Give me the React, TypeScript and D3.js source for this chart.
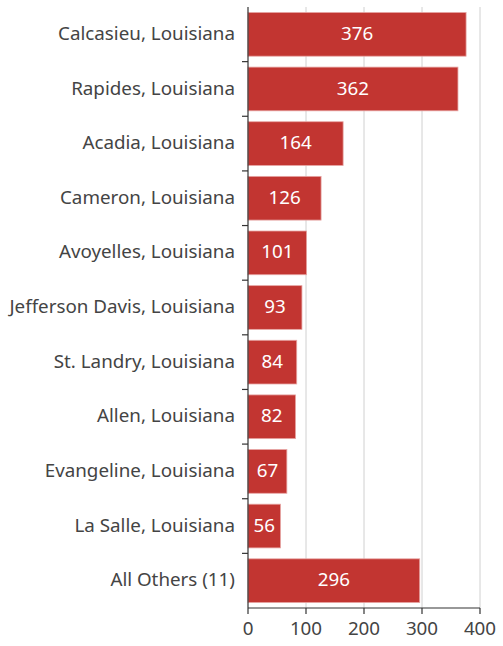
import React from "react";
import * as d3 from "d3";

const categories = [
  "Calcasieu, Louisiana",
  "Rapides, Louisiana",
  "Acadia, Louisiana",
  "Cameron, Louisiana",
  "Avoyelles, Louisiana",
  "Jefferson Davis, Louisiana",
  "St. Landry, Louisiana",
  "Allen, Louisiana",
  "Evangeline, Louisiana",
  "La Salle, Louisiana",
  "All Others (11)",
];
const values = [376, 362, 164, 126, 101, 93, 84, 82, 67, 56, 296];
const xTicks = [0, 100, 200, 300, 400];

const W = 503;
const H = 646;
const margin = { top: 7, right: 23, bottom: 38, left: 248 };

export default function App() {
  const x = d3.scaleLinear().domain([0, 400]).range([margin.left, W - margin.right]);
  const y = d3
    .scaleBand<string>()
    .domain(categories)
    .range([margin.top, H - margin.bottom])
    .paddingInner(0.2)
    .paddingOuter(0.1);
  const step = y.step();
  const edges = categories.map((c) => (y(c) as number) - (step * y.paddingInner()) / 2);
  edges.push(H - margin.bottom);
  const font = "'Noto Sans', 'Open Sans', sans-serif";
  const y0 = margin.top;
  const y1 = H - margin.bottom;
  return (
    <svg
      width={W}
      height={H}
      style={{ position: "absolute", left: 0, top: 0, fontFamily: font }}
    >
      {xTicks.slice(1).map((t) => (
        <line key={"g" + t} x1={x(t)} x2={x(t)} y1={y0} y2={y1} stroke="#d0d0d0" strokeWidth={1} />
      ))}
      {categories.map((c, i) => (
        <g key={c}>
          <rect
            x={x(0)}
            y={y(c)}
            width={x(values[i]) - x(0)}
            height={y.bandwidth()}
            fill="#c23531"
            stroke="#e7a5a3"
            strokeWidth={0.8}
          />
          <text
            x={(x(0) + x(values[i])) / 2}
            y={(y(c) as number) + y.bandwidth() / 2 - 1}
            dy="0.35em"
            textAnchor="middle"
            fill="#fff"
            fontSize={18.8}
          >
            {values[i]}
          </text>
          <text
            x={x(0) - 13}
            y={(y(c) as number) + y.bandwidth() / 2 - 1}
            dy="0.35em"
            textAnchor="end"
            fill="#444"
            fontSize={18.8}
          >
            {c}
          </text>
        </g>
      ))}
      <line x1={x(0)} x2={x(0)} y1={y0} y2={y1} stroke="#333" strokeWidth={1.2} />
      {edges.slice(1, -1).map((e, i) => (
        <line key={"t" + i} x1={x(0) - 6} x2={x(0)} y1={e} y2={e} stroke="#333" strokeWidth={1.2} />
      ))}
      <line x1={x(0)} x2={x(400)} y1={y1} y2={y1} stroke="#333" strokeWidth={1.2} />
      {xTicks.map((t) => (
        <g key={"x" + t}>
          <line x1={x(t)} x2={x(t)} y1={y1} y2={y1 + 6} stroke="#333" strokeWidth={1.2} />
          <text x={x(t)} y={y1 + 27} textAnchor="middle" fill="#444" fontSize={18.8}>
            {t}
          </text>
        </g>
      ))}
    </svg>
  );
}
